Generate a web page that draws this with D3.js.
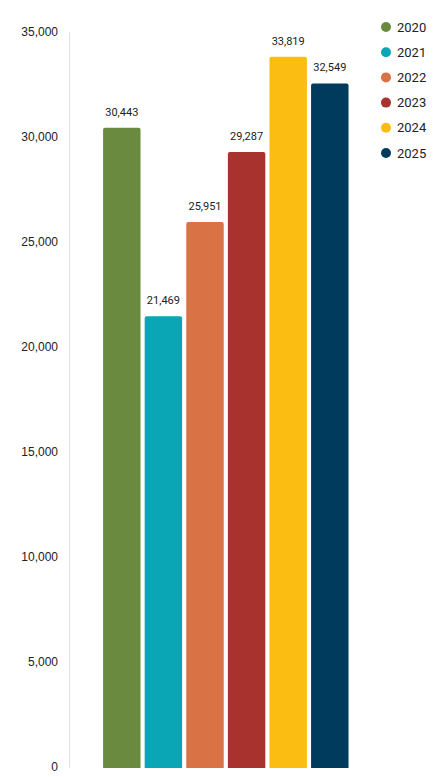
<!DOCTYPE html>
<html>
<head>
<meta charset="utf-8">
<script src="https://cdn.jsdelivr.net/npm/d3@7"></script>
<style>
  body { margin: 0; background: #fff; }
  svg { display: block; font-family: Roboto, "Open Sans", sans-serif; }
</style>
</head>
<body>
<svg id="chart"></svg>
<script>
const years = ["2020", "2021", "2022", "2023", "2024", "2025"];
const values = [30443, 21469, 25951, 29287, 33819, 32549];
const colors = ["#6a8a3f", "#0aa6b5", "#d97245", "#a8322e", "#fbbd12", "#003a5c"];
const yTicks = [0, 5000, 10000, 15000, 20000, 25000, 30000, 35000];

const width = 436, height = 777;
const svg = d3.select("#chart").attr("width", width).attr("height", height);

const x = d3.scaleBand().domain(years).range([101, 350.6]).paddingInner(0.1).paddingOuter(0.05);
const y = d3.scaleLinear().domain([0, 35000]).range([767, 32]);
const fmt = d3.format(",");

// y axis
const yAxis = d3.axisLeft(y).tickValues(yTicks).tickSize(0).tickPadding(11).tickFormat(fmt);
const gy = svg.append("g").attr("transform", "translate(69,0)").call(yAxis);
gy.select(".domain").attr("stroke", "#e0e0e0");
gy.selectAll("text").attr("font-size", 12).attr("fill", "#222");

// bars with rounded top corners
const r = 2;
function barPath(x0, w, top, bottom) {
  return `M${x0},${bottom}V${top + r}Q${x0},${top} ${x0 + r},${top}H${x0 + w - r}Q${x0 + w},${top} ${x0 + w},${top + r}V${bottom}Z`;
}
const data = years.map((yr, i) => ({ year: yr, value: values[i], color: colors[i] }));

svg.append("g").selectAll("path").data(data).enter().append("path")
  .attr("d", d => barPath(x(d.year), x.bandwidth(), y(d.value), y(0) + 1))
  .attr("fill", d => d.color);

svg.append("g").selectAll("text").data(data).enter().append("text")
  .attr("x", d => x(d.year) + x.bandwidth() / 2)
  .attr("y", d => y(d.value) - 12)
  .attr("text-anchor", "middle")
  .attr("font-size", 11)
  .attr("fill", "#222")
  .text(d => fmt(d.value));

// legend
const legend = svg.append("g").selectAll("g").data(data).enter().append("g")
  .attr("transform", (d, i) => `translate(386,${27 + i * 25.2})`);
legend.append("circle").attr("r", 5).attr("fill", d => d.color);
legend.append("text").attr("x", 11).attr("dy", "0.35em")
  .attr("font-size", 13).attr("fill", "#222").text(d => d.year);
</script>
</body>
</html>
